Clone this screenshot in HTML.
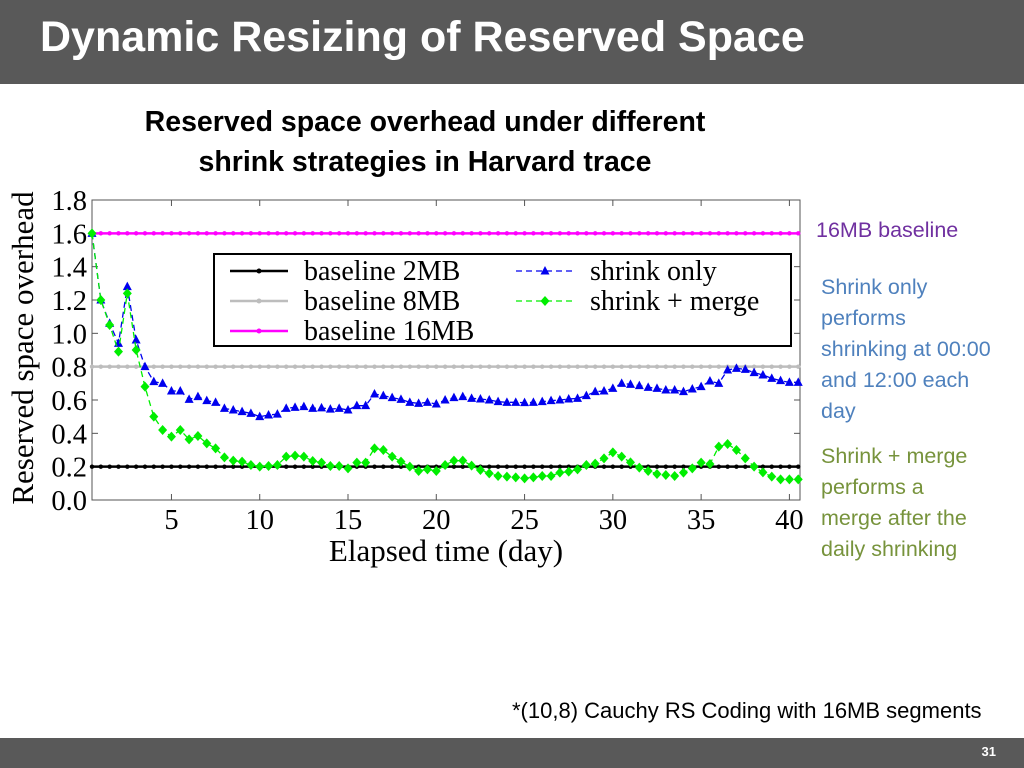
<!DOCTYPE html>
<html><head><meta charset="utf-8"><style>
body{margin:0;width:1024px;height:768px;overflow:hidden;background:#fff;position:relative;font-family:"Liberation Sans",sans-serif}
.hdr{position:absolute;left:0;top:0;width:1024px;height:84px;background:#595959}
.ttl{position:absolute;left:40px;top:13px;color:#fff;font:bold 43px "Liberation Sans Narrow","Liberation Sans",sans-serif;white-space:nowrap}
.ct{position:absolute;left:75px;width:700px;top:102px;text-align:center;font:bold 28.5px/40px "Liberation Sans Narrow","Liberation Sans",sans-serif;color:#000}
.side{position:absolute;font-size:21.5px;line-height:31px}
.ftr{position:absolute;left:0;top:738px;width:1024px;height:30px;background:#595959}
.pg{position:absolute;right:28px;top:744px;color:#fff;font-size:13px;font-weight:bold}
</style></head><body>
<div class="hdr"></div>
<div class="ttl">Dynamic Resizing of Reserved Space</div>
<div class="ct">Reserved space overhead under different<br>shrink strategies in Harvard trace</div>
<div class="side" style="left:816px;top:215px;color:#7030a0">16MB baseline</div>
<div class="side" style="left:821px;top:272px;color:#4f81bd">Shrink only<br>performs<br>shrinking at 00:00<br>and 12:00 each<br>day</div>
<div class="side" style="left:821px;top:441px;color:#77933c">Shrink + merge<br>performs a<br>merge after the<br>daily shrinking</div>
<div class="side" style="left:512px;top:695px;color:#000;font-size:22px">*(10,8) Cauchy RS Coding with 16MB segments</div>
<div class="ftr"></div>
<div class="pg">31</div>
<svg id="chart" width="1024" height="768" style="position:absolute;left:0;top:0"></svg>
<script>
const shrinkOnly=[1.6,1.2,1.06,0.94,1.28,0.96,0.80,0.71,0.70,0.654,0.654,0.604,0.62,0.596,0.586,0.55,0.54,0.53,0.52,0.50,0.51,0.515,0.55,0.556,0.56,0.55,0.553,0.545,0.55,0.54,0.566,0.566,0.636,0.626,0.614,0.604,0.586,0.58,0.586,0.576,0.60,0.614,0.62,0.61,0.606,0.60,0.59,0.586,0.586,0.584,0.586,0.59,0.596,0.60,0.606,0.61,0.626,0.65,0.654,0.67,0.70,0.694,0.686,0.676,0.67,0.66,0.66,0.65,0.666,0.68,0.714,0.70,0.78,0.79,0.784,0.764,0.75,0.73,0.716,0.706,0.706];
const shrinkMerge=[1.6,1.2,1.05,0.89,1.24,0.90,0.68,0.50,0.42,0.38,0.42,0.364,0.384,0.34,0.31,0.256,0.236,0.23,0.21,0.20,0.204,0.21,0.26,0.266,0.26,0.234,0.224,0.204,0.204,0.19,0.224,0.224,0.31,0.30,0.26,0.23,0.20,0.174,0.184,0.174,0.21,0.236,0.236,0.206,0.18,0.16,0.144,0.14,0.136,0.13,0.136,0.144,0.144,0.164,0.17,0.184,0.21,0.218,0.25,0.286,0.26,0.226,0.194,0.174,0.156,0.15,0.144,0.164,0.19,0.224,0.216,0.32,0.336,0.30,0.25,0.20,0.166,0.14,0.124,0.124,0.124];
const baselines=[{v:0.2,c:'#000',n:'baseline-2mb'},{v:0.8,c:'#bdbdbd',n:'baseline-8mb'},{v:1.6,c:'#ff00ff',n:'baseline-16mb'}];
const xTicks=[5,10,15,20,25,30,35,40];
const yTicks=[0,0.2,0.4,0.6,0.8,1.0,1.2,1.4,1.6,1.8];
const X0=92,X1=800,Y0=500,Y1=200,D0=0.5,D1=40.6;
const sx=d=>X0+(d-D0)/(D1-D0)*(X1-X0);
const sy=v=>Y0-v/1.8*(Y0-Y1);
const NS='http://www.w3.org/2000/svg';
const svg=document.getElementById('chart');
function mk(t,a,p){const e=document.createElementNS(NS,t);for(const k in a)e.setAttribute(k,a[k]);(p||svg).appendChild(e);return e;}
const serif='"Liberation Serif",serif';
let fr=mk('rect',{x:X0,y:Y1,width:X1-X0,height:Y0-Y1,fill:'none',stroke:'#555','stroke-width':1});


yTicks.forEach(v=>{
  mk('line',{x1:X0,x2:X0+6,y1:sy(v),y2:sy(v),stroke:'#555'});
  mk('line',{x1:X1,x2:X1-6,y1:sy(v),y2:sy(v),stroke:'#555'});
  const t=mk('text',{x:87,y:sy(v)+10,'text-anchor':'end','font-family':serif,'font-size':28.5});
  t.textContent=v.toFixed(1);
  
  
});
xTicks.forEach(d=>{
  mk('line',{x1:sx(d),x2:sx(d),y1:Y0,y2:Y0-6,stroke:'#555'});
  mk('line',{x1:sx(d),x2:sx(d),y1:Y1,y2:Y1+6,stroke:'#555'});
  const t=mk('text',{x:sx(d),y:529,'text-anchor':'middle','font-family':serif,'font-size':28.5});
  t.textContent=d;
  
  
});
let xl=mk('text',{x:446,y:561,'text-anchor':'middle','font-family':serif,'font-size':31});
xl.textContent='Elapsed time (day)';


let yl=mk('text',{x:0,y:0,transform:'translate(33,348) rotate(-90)','text-anchor':'middle','font-family':serif,'font-size':31});
yl.textContent='Reserved space overhead';


const N=shrinkOnly.length;
baselines.forEach(b=>{
  const g=mk('g',{});
  
  
  mk('line',{x1:sx(D0),x2:sx(D0+(N-1)*0.5),y1:sy(b.v),y2:sy(b.v),stroke:b.c,'stroke-width':2.5},g);
  for(let i=0;i<N;i++)mk('circle',{cx:sx(D0+i*0.5),cy:sy(b.v),r:2.2,fill:b.c},g);
});
function series(data,c,name,tri){
  const g=mk('g',{});
  
  
  mk('polyline',{points:data.map((v,i)=>sx(D0+i*0.5)+','+sy(v)).join(' '),fill:'none',stroke:c,'stroke-width':1.3,'stroke-dasharray':'6,4'},g);
  data.forEach((v,i)=>{const x=sx(D0+i*0.5),y=sy(v);
    if(tri)mk('polygon',{points:`${x},${y-5} ${x-4.5},${y+3.5} ${x+4.5},${y+3.5}`,fill:c},g);
    else mk('polygon',{points:`${x},${y-5} ${x+4.5},${y} ${x},${y+5} ${x-4.5},${y}`,fill:c},g);});
}
series(shrinkOnly,'#0000ee','series-shrink-only',true);
series(shrinkMerge,'#00ee00','series-shrink-merge',false);
const lg=mk('g',{});


mk('rect',{x:214,y:254,width:577,height:92,fill:'#fff',stroke:'#000','stroke-width':2},lg);
const items=[[230,271,'#000','baseline 2MB','c'],[230,301,'#bdbdbd','baseline 8MB','c'],[230,331,'#ff00ff','baseline 16MB','c'],[516,271,'#0000ee','shrink only','t'],[516,301,'#00ee00','shrink + merge','d']];
items.forEach(it=>{
  const [x,y,c,lab,m]=it;
  const e=mk('g',{},lg);
  
  
  if(m==='c'){mk('line',{x1:x,x2:x+58,y1:y,y2:y,stroke:c,'stroke-width':2.5},e);mk('circle',{cx:x+29,cy:y,r:2.5,fill:c},e);}
  else{mk('line',{x1:x,x2:x+58,y1:y,y2:y,stroke:c,'stroke-width':1.3,'stroke-dasharray':'6,4'},e);
    const cx=x+29;
    if(m==='t')mk('polygon',{points:`${cx},${y-5} ${cx-4.5},${y+3.5} ${cx+4.5},${y+3.5}`,fill:c},e);
    else mk('polygon',{points:`${cx},${y-5} ${cx+4.5},${y} ${cx},${y+5} ${cx-4.5},${y}`,fill:c},e);}
  const t=mk('text',{x:x+74,y:y+9,'font-family':serif,'font-size':28},e);
  t.textContent=lab;
});
</script>
</body></html>
